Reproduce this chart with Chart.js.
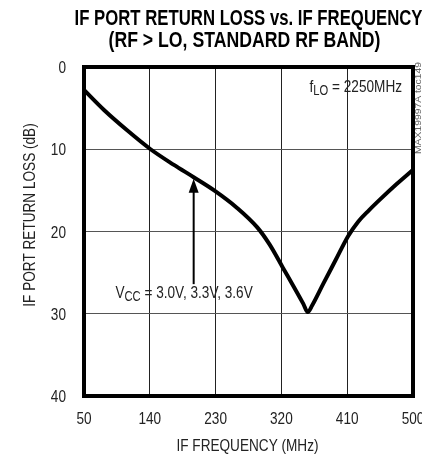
<!DOCTYPE html>
<html>
<head>
<meta charset="utf-8">
<script src="https://cdn.jsdelivr.net/npm/chart.js@4"></script>
<style>
  html, body { margin: 0; padding: 0; background: #fff; }
  #wrap { width: 422px; height: 457px; position: relative; }
</style>
</head>
<body>
<div id="wrap"><canvas id="grafica"></canvas></div>
<script>
// datos (MHz, dB)
const frecuencias = [50, 77, 109, 141, 173, 200, 228, 259, 287, 304, 322, 340, 350, 356, 362, 377, 394, 411, 425, 440, 455, 478, 500];
const perdidaRetorno = [2.8, 5.2, 7.7, 10.0, 11.9, 13.4, 15.0, 17.1, 19.5, 21.6, 24.4, 27.2, 28.8, 29.8, 29.0, 26.4, 23.5, 20.6, 18.8, 17.4, 16.1, 14.2, 12.5];
const ticksX = [50, 140, 230, 320, 410, 500];
const ticksY = [0, 10, 20, 30, 40];

const fuente = "'Liberation Sans', Arial, sans-serif";
const estrecho = 0.8; // la fuente original es condensada

// texto comprimido en horizontal
function texto(ctx, t, x, y, opts) {
    const o = Object.assign({ size: 17, weight: '', align: 'left', color: '#222', ancho: null }, opts || {});
    ctx.save();
    ctx.font = (o.weight ? o.weight + ' ' : '') + o.size + 'px ' + fuente;
    ctx.fillStyle = o.color;
    ctx.textBaseline = 'alphabetic';
    ctx.textAlign = 'left';
    const w = ctx.measureText(t).width;
    const sx = o.ancho ? o.ancho / w : estrecho;
    const wReal = w * sx;
    let x0 = x;
    if (o.align === 'center') x0 = x - wReal / 2;
    if (o.align === 'right') x0 = x - wReal;
    ctx.translate(x0, y);
    ctx.scale(sx, 1);
    ctx.fillText(t, 0, 0);
    ctx.restore();
    return wReal;
}

function anchoTexto(ctx, t, size) {
    ctx.save();
    ctx.font = size + 'px ' + fuente;
    const w = ctx.measureText(t).width * estrecho;
    ctx.restore();
    return w;
}

const anotaciones = {
    id: 'anotaciones',
    afterDraw(chart) {
        const ctx = chart.ctx;
        const x = chart.scales.x, y = chart.scales.y;
        const area = chart.chartArea;
        const cx = (area.left + area.right) / 2;

        // titulo
        texto(ctx, 'IF PORT RETURN LOSS vs. IF FREQUENCY', cx, 25, { size: 22, weight: 'bold', align: 'center', color: '#000', ancho: 348 });
        texto(ctx, '(RF > LO, STANDARD RF BAND)', cx - 4, 47, { size: 22, weight: 'bold', align: 'center', color: '#000', ancho: 272 });

        // etiquetas de ejes
        ticksX.forEach(v => texto(ctx, String(v), x.getPixelForValue(v), 424, { align: 'center' }));
        ticksY.forEach(v => texto(ctx, String(v), 66, y.getPixelForValue(v) + 6, { align: 'right' }));
        texto(ctx, 'IF FREQUENCY (MHz)', cx - 1, 451, { align: 'center' });
        ctx.save();
        ctx.translate(35, 215);
        ctx.rotate(-Math.PI / 2);
        texto(ctx, 'IF PORT RETURN LOSS (dB)', 0, 0, { align: 'center' });
        ctx.restore();

        // flecha
        ctx.save();
        const ax = x.getPixelForValue(200);
        const yTip = y.getPixelForValue(13.6);
        const yBase = y.getPixelForValue(26.4);
        ctx.strokeStyle = '#000';
        ctx.fillStyle = '#000';
        ctx.lineWidth = 2;
        ctx.beginPath();
        ctx.moveTo(ax, yBase);
        ctx.lineTo(ax, yTip + 10);
        ctx.stroke();
        ctx.beginPath();
        ctx.moveTo(ax, yTip);
        ctx.lineTo(ax - 5, yTip + 14);
        ctx.lineTo(ax + 5, yTip + 14);
        ctx.closePath();
        ctx.fill();
        ctx.restore();

        // etiqueta VCC
        let tx = x.getPixelForValue(93);
        const ty = y.getPixelForValue(27.4) + 6;
        tx += texto(ctx, 'V', tx, ty);
        tx += texto(ctx, 'CC', tx, ty + 3, { size: 14 });
        texto(ctx, ' = 3.0V, 3.3V, 3.6V', tx, ty);

        // etiqueta fLO, alineada a la derecha
        const fy = y.getPixelForValue(2.3) + 6;
        const total = anchoTexto(ctx, 'f', 17) + anchoTexto(ctx, 'LO', 14) + anchoTexto(ctx, ' = 2250MHz', 17);
        let fx = 402 - total;
        fx += texto(ctx, 'f', fx, fy);
        fx += texto(ctx, 'LO', fx, fy + 3, { size: 14 });
        texto(ctx, ' = 2250MHz', fx, fy);

        // codigo lateral
        ctx.save();
        ctx.translate(421, 154);
        ctx.rotate(-Math.PI / 2);
        texto(ctx, 'MAX19997A toc149', 0, 0, { size: 9, color: '#666', ancho: 92 });
        ctx.restore();
    }
};

const ctx = document.getElementById('grafica').getContext('2d');
const grafica = new Chart(ctx, {
    type: 'line',
    data: {
        datasets: [{
            label: 'Return loss',
            data: frecuencias.map((f, i) => ({ x: f, y: perdidaRetorno[i] })),
            borderColor: '#000',
            borderWidth: 4,
            pointRadius: 0,
            fill: false,
            cubicInterpolationMode: 'monotone'
        }]
    },
    options: {
        responsive: true,
        maintainAspectRatio: false,
        animation: false,
        layout: {
            padding: { top: 67, right: 9, left: 0, bottom: 0 }
        },
        plugins: {
            legend: { display: false },
            tooltip: { enabled: false }
        },
        scales: {
            x: {
                type: 'linear',
                min: 50,
                max: 500,
                afterBuildTicks: (scale) => { scale.ticks = ticksX.map(v => ({ value: v })); },
                afterFit: (scale) => {
                    scale.height = 61;
                    scale.paddingLeft = 0;
                    scale.paddingRight = 0;
                },
                grid: { color: '#222', lineWidth: 1, drawTicks: false },
                border: { color: '#000', width: 4 },
                ticks: { display: false }
            },
            y: {
                type: 'linear',
                reverse: true,
                min: 0,
                max: 40,
                afterBuildTicks: (scale) => { scale.ticks = ticksY.map(v => ({ value: v })); },
                afterFit: (scale) => {
                    scale.width = 84;
                    scale.paddingTop = 0;
                    scale.paddingBottom = 0;
                },
                grid: { color: '#555', lineWidth: 1, drawTicks: false },
                border: { color: '#000', width: 4 },
                ticks: { display: false }
            }
        }
    },
    plugins: [anotaciones, {
        id: 'bordeSuperior',
        afterDatasetsDraw(chart) {
            const a = chart.chartArea;
            const c = chart.ctx;
            c.save();
            c.strokeStyle = '#000';
            c.lineWidth = 4;
            c.strokeRect(a.left, a.top, a.right - a.left, a.bottom - a.top);
            c.restore();
        }
    }]
});
</script>
</body>
</html>
